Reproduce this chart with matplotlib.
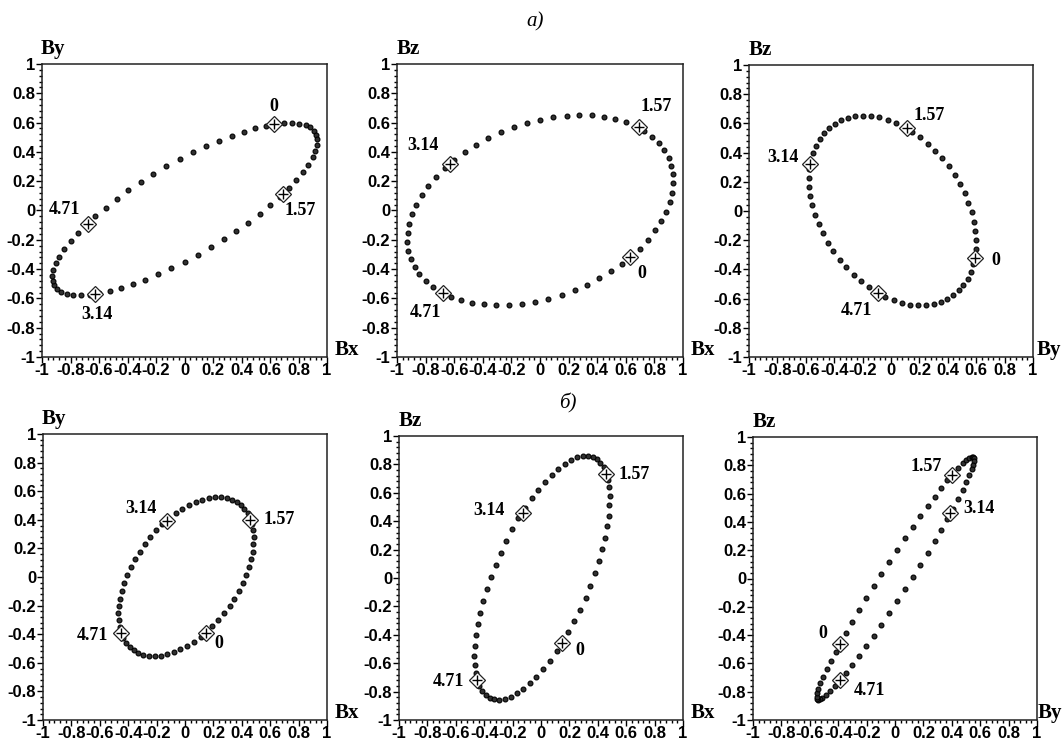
import numpy as np
import matplotlib
matplotlib.use('Agg')
import matplotlib.pyplot as plt
from matplotlib.ticker import MultipleLocator, AutoMinorLocator, FuncFormatter

# phase points marked on every hodograph
phases = [0.0, 1.57, 3.14, 4.71]
phase_labels = ['0', '1.57', '3.14', '4.71']

# case а): field components at the marked phases
bx_a = [0.63, 0.69, -0.63, -0.68]
by_a = [0.59, 0.11, -0.57, -0.09]
bz_a = [-0.32, 0.57, 0.32, -0.56]

# case б)
bx_b = [0.15, 0.46, -0.13, -0.45]
by_b = [-0.39, 0.40, 0.39, -0.39]
bz_b = [-0.46, 0.73, 0.46, -0.72]

W, H = 1063, 740
fig = plt.figure(figsize=(W / 100, H / 100), dpi=100)
fig.patch.set_facecolor('white')

tick_font = ['Liberation Sans Narrow', 'Liberation Sans', 'DejaVu Sans']
serif_font = ['Liberation Serif', 'DejaVu Serif']


def px_rect(l, t, r, b):
    return [l / W, (H - b) / H, (r - l) / W, (b - t) / H]


def harmonic(vals, t):
    # first harmonic through the four quarter-period samples
    c = np.mean(vals)
    a = (vals[0] - vals[2]) / 2
    b = (vals[1] - vals[3]) / 2
    return c + a * np.cos(t) + b * np.sin(t)


t = np.arange(0, 2 * np.pi, 0.1)

panels = [
    # rect, x values, y values, x name, y name, label offsets (px), x-name shift
    ((42, 64, 327, 357), bx_a, by_a, 'Bx', 'By',
     [(0, 18), (17, -16), (2, -20), (-23, 14)], 20),
    ((397, 64, 683, 357), bx_a, bz_a, 'Bx', 'Bz',
     [(12, -16), (18, 20), (-27, 18), (-17, -20)], 20),
    ((749, 65, 1033, 357), by_a, bz_a, 'By', 'Bz',
     [(21, -3), (23, 12), (-27, 7), (-22, -18)], 16),
    ((43, 434, 327, 720), bx_b, by_b, 'Bx', 'By',
     [(13, -11), (29, 0), (-26, 13), (-29, -3)], 20),
    ((399, 436, 683, 720), bx_b, bz_b, 'Bx', 'Bz',
     [(18, -7), (28, 0), (-34, 2), (-29, -1)], 20),
    ((753, 437, 1037, 720), by_b, bz_b, 'By', 'Bz',
     [(-17, 10), (-26, 9), (29, 5), (30, -10)], 13),
]

for rect, xv, yv, xname, yname, offs, xshift in panels:
    ax = fig.add_axes(px_rect(*rect))
    ax.plot(harmonic(xv, t), harmonic(yv, t), 'o', ms=3.5, mfc='#303030',
            mec='black', mew=0.8, zorder=2)
    ax.plot(xv, yv, 'D', ms=8, mfc='white', mec='#222222', mew=0.9, zorder=3)
    ax.plot(xv, yv, '+', ms=7, color='black', mew=1.0, zorder=4)
    for x, y, lab, off in zip(xv, yv, phase_labels, offs):
        ax.annotate(lab, (x, y), xytext=off, textcoords='offset pixels',
                    ha='center', va='center', fontsize=13, fontweight='bold',
                    family=serif_font, zorder=5)

    ax.set_xlim(-1, 1)
    ax.set_ylim(-1, 1)
    for a in (ax.xaxis, ax.yaxis):
        a.set_major_locator(MultipleLocator(0.2))
        a.set_minor_locator(AutoMinorLocator(5))
        a.set_major_formatter(FuncFormatter(lambda v, p: f'{round(v, 1):g}'))
    ax.tick_params(which='both', direction='out', width=1, colors='black',
                   top=False, right=False, pad=1)
    ax.tick_params(which='major', length=4, labelsize=12)
    ax.tick_params(which='minor', length=2)
    ax.tick_params(axis='x', pad=0)
    for lab in ax.get_xticklabels() + ax.get_yticklabels():
        lab.set_family(tick_font)
        lab.set_fontweight('heavy')
    for s in ax.spines.values():
        s.set_linewidth(1.1)
        s.set_color('#222222')

    ax.annotate(yname, (0, 1), xycoords='axes fraction', xytext=(11, 15),
                textcoords='offset pixels', ha='center', va='center',
                fontsize=15, fontweight='bold', family=serif_font)
    ax.annotate(xname, (1, 0), xycoords='axes fraction', xytext=(xshift, 7),
                textcoords='offset pixels', ha='center', va='center',
                fontsize=15, fontweight='bold', family=serif_font)

fig.text(535 / W, 1 - 22 / H, 'а)', ha='center', va='center', fontsize=15,
         style='italic', family=serif_font)
fig.text(568 / W, 1 - 403 / H, 'б)', ha='center', va='center', fontsize=15,
         style='italic', family=serif_font)

fig.savefig('out.png', dpi=100, facecolor='white')
